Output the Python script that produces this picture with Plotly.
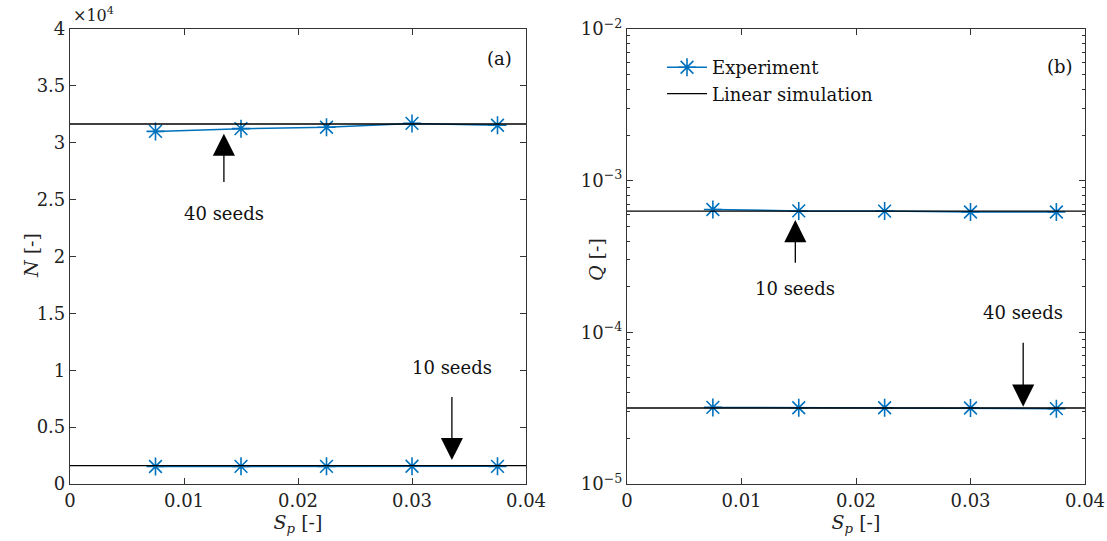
import plotly.graph_objects as go

W, H = 1107, 541

# ---------------- data ----------------
sp = [0.0075, 0.015, 0.0225, 0.03, 0.0375]
sim_sp = [0.0, 0.04]

N_exp_40 = [31000, 31240, 31360, 31700, 31540]
N_sim_40 = [31650, 31650]
N_exp_10 = [1540, 1550, 1550, 1560, 1550]
N_sim_10 = [1610, 1610]

Q_exp_10 = [6.45e-4, 6.32e-4, 6.3e-4, 6.22e-4, 6.22e-4]
Q_sim_10 = [6.3e-4, 6.3e-4]
Q_exp_40 = [3.2e-5, 3.18e-5, 3.18e-5, 3.17e-5, 3.14e-5]
Q_sim_40 = [3.17e-5, 3.17e-5]

x_ticks = [0, 0.01, 0.02, 0.03, 0.04]
x_ticktext = ["0", "0.01", "0.02", "0.03", "0.04"]
N_ticks = [0, 5000, 10000, 15000, 20000, 25000, 30000, 35000, 40000]
N_ticktext = ["0", "0.5", "1", "1.5", "2", "2.5", "3", "3.5", "4"]
Q_ticks = [1e-5, 1e-4, 1e-3, 1e-2]
Q_ticktext = ["10<sup>−5</sup>", "10<sup>−4</sup>", "10<sup>−3</sup>", "10<sup>−2</sup>"]

BLUE = "#0072BD"
FONT = "DejaVu Serif"
FS = 18


def px(x):
    return x / W


def py(y):
    return 1 - y / H


fig = go.Figure()

marker = dict(symbol="asterisk-open", size=15, color=BLUE, line=dict(color=BLUE, width=1.6))

# left panel
fig.add_trace(go.Scatter(x=sp, y=N_exp_40, mode="lines+markers", line=dict(color=BLUE, width=1.5),
                         marker=marker, showlegend=False, xaxis="x", yaxis="y"))
fig.add_trace(go.Scatter(x=sim_sp, y=N_sim_40, mode="lines", line=dict(color="black", width=1.3),
                         showlegend=False, xaxis="x", yaxis="y"))
fig.add_trace(go.Scatter(x=sp, y=N_exp_10, mode="lines+markers", line=dict(color=BLUE, width=1.5),
                         marker=marker, showlegend=False, xaxis="x", yaxis="y"))
fig.add_trace(go.Scatter(x=sim_sp, y=N_sim_10, mode="lines", line=dict(color="black", width=1.3),
                         showlegend=False, xaxis="x", yaxis="y"))

# right panel
fig.add_trace(go.Scatter(x=sp, y=Q_exp_10, mode="lines+markers", line=dict(color=BLUE, width=1.5),
                         marker=marker, name="Experiment", showlegend=True, xaxis="x2", yaxis="y2"))
fig.add_trace(go.Scatter(x=sim_sp, y=Q_sim_10, mode="lines", line=dict(color="black", width=1.3),
                         name="Linear simulation", showlegend=True, xaxis="x2", yaxis="y2"))
fig.add_trace(go.Scatter(x=sp, y=Q_exp_40, mode="lines+markers", line=dict(color=BLUE, width=1.5),
                         marker=marker, showlegend=False, xaxis="x2", yaxis="y2"))
fig.add_trace(go.Scatter(x=sim_sp, y=Q_sim_40, mode="lines", line=dict(color="black", width=1.3),
                         showlegend=False, xaxis="x2", yaxis="y2"))

axis_common = dict(showline=True, linecolor="#333", linewidth=1.2, mirror="ticks", ticks="inside",
                   ticklen=6, tickcolor="#333", showgrid=False, zeroline=False, automargin=False,
                   tickfont=dict(family=FONT, size=FS, color="#222"))

ydom = [py(484), py(29)]

fig.update_layout(
    width=W, height=H, margin=dict(l=0, r=0, t=0, b=0, autoexpand=False),
    paper_bgcolor="white", plot_bgcolor="white",
    font=dict(family=FONT, size=FS, color="#222"),
    xaxis=dict(domain=[px(70), px(526)], range=[0, 0.04], tickvals=x_ticks, ticktext=x_ticktext,
               anchor="y", title=dict(text="<i>S<sub>p</sub></i> [-]", standoff=2,
                                      font=dict(family=FONT, size=FS + 1)), **axis_common),
    yaxis=dict(domain=ydom, range=[0, 40000], tickvals=N_ticks, ticktext=N_ticktext, anchor="x",
               **axis_common),
    xaxis2=dict(domain=[px(627), px(1085)], range=[0, 0.04], tickvals=x_ticks, ticktext=x_ticktext,
                anchor="y2", title=dict(text="<i>S<sub>p</sub></i> [-]", standoff=2,
                                        font=dict(family=FONT, size=FS + 1)), **axis_common),
    yaxis2=dict(domain=ydom, type="log", range=[-5, -2], tickvals=Q_ticks, ticktext=Q_ticktext,
                anchor="x2",
                minor=dict(ticks="inside", ticklen=3, tickcolor="#333",
                           tickvals=[m * 10 ** e for e in (-5, -4, -3) for m in range(2, 10)]),
                **axis_common),
    legend=dict(x=px(662), y=py(49), xanchor="left", yanchor="top", bgcolor="rgba(0,0,0,0)",
                font=dict(family=FONT, size=FS, color="#111"), tracegroupgap=0, itemwidth=40),
)

ann_font = dict(family=FONT, size=FS, color="#111")
title_font = dict(family=FONT, size=FS + 1, color="#222")
arrow = dict(showarrow=True, arrowhead=2, arrowsize=3.4, arrowwidth=1.3, arrowcolor="black")

annotations = [
    # y-axis titles
    dict(xref="paper", yref="paper", x=px(31), y=py(256), text="<i>N</i> [-]", textangle=-90,
         xanchor="center", yanchor="middle", showarrow=False, font=title_font),
    dict(xref="paper", yref="paper", x=px(596), y=py(260), text="<i>Q</i> [-]", textangle=-90,
         xanchor="center", yanchor="middle", showarrow=False, font=title_font),
    # left panel
    dict(xref="x", yref="y", x=0.0135, y=30800, axref="x", ayref="y", ax=0.0135, ay=25500, **arrow),
    dict(xref="x", yref="y", x=0.0135, y=23800, text="40 seeds", showarrow=False, font=ann_font),
    dict(xref="x", yref="y", x=0.0335, y=2100, axref="x", ayref="y", ax=0.0335, ay=8700, **arrow),
    dict(xref="x", yref="y", x=0.0335, y=10200, text="10 seeds", showarrow=False, font=ann_font),
    dict(xref="x", yref="y", x=0.0377, y=37400, text="(a)", showarrow=False, font=ann_font),
    dict(xref="paper", yref="paper", x=px(71), y=py(27), text="×10<sup>4</sup>", showarrow=False,
         xanchor="left", yanchor="bottom", font=dict(family=FONT, size=16, color="#222")),
    # right panel (log coords)
    dict(xref="x2", yref="y2", x=0.0147, y=-3.26, axref="x2", ayref="y2", ax=0.0147, ay=-3.62, **arrow),
    dict(xref="x2", yref="y2", x=0.0147, y=-3.71, text="10 seeds", showarrow=False, font=ann_font),
    dict(xref="x2", yref="y2", x=0.0346, y=-4.49, axref="x2", ayref="y2", ax=0.0346, ay=-3.99, **arrow),
    dict(xref="x2", yref="y2", x=0.0346, y=-3.87, text="40 seeds", showarrow=False, font=ann_font),
    dict(xref="x2", yref="y2", x=0.0378, y=-2.25, text="(b)", showarrow=False, font=ann_font),
]
fig.update_layout(annotations=annotations)

fig.write_html("out.html")
